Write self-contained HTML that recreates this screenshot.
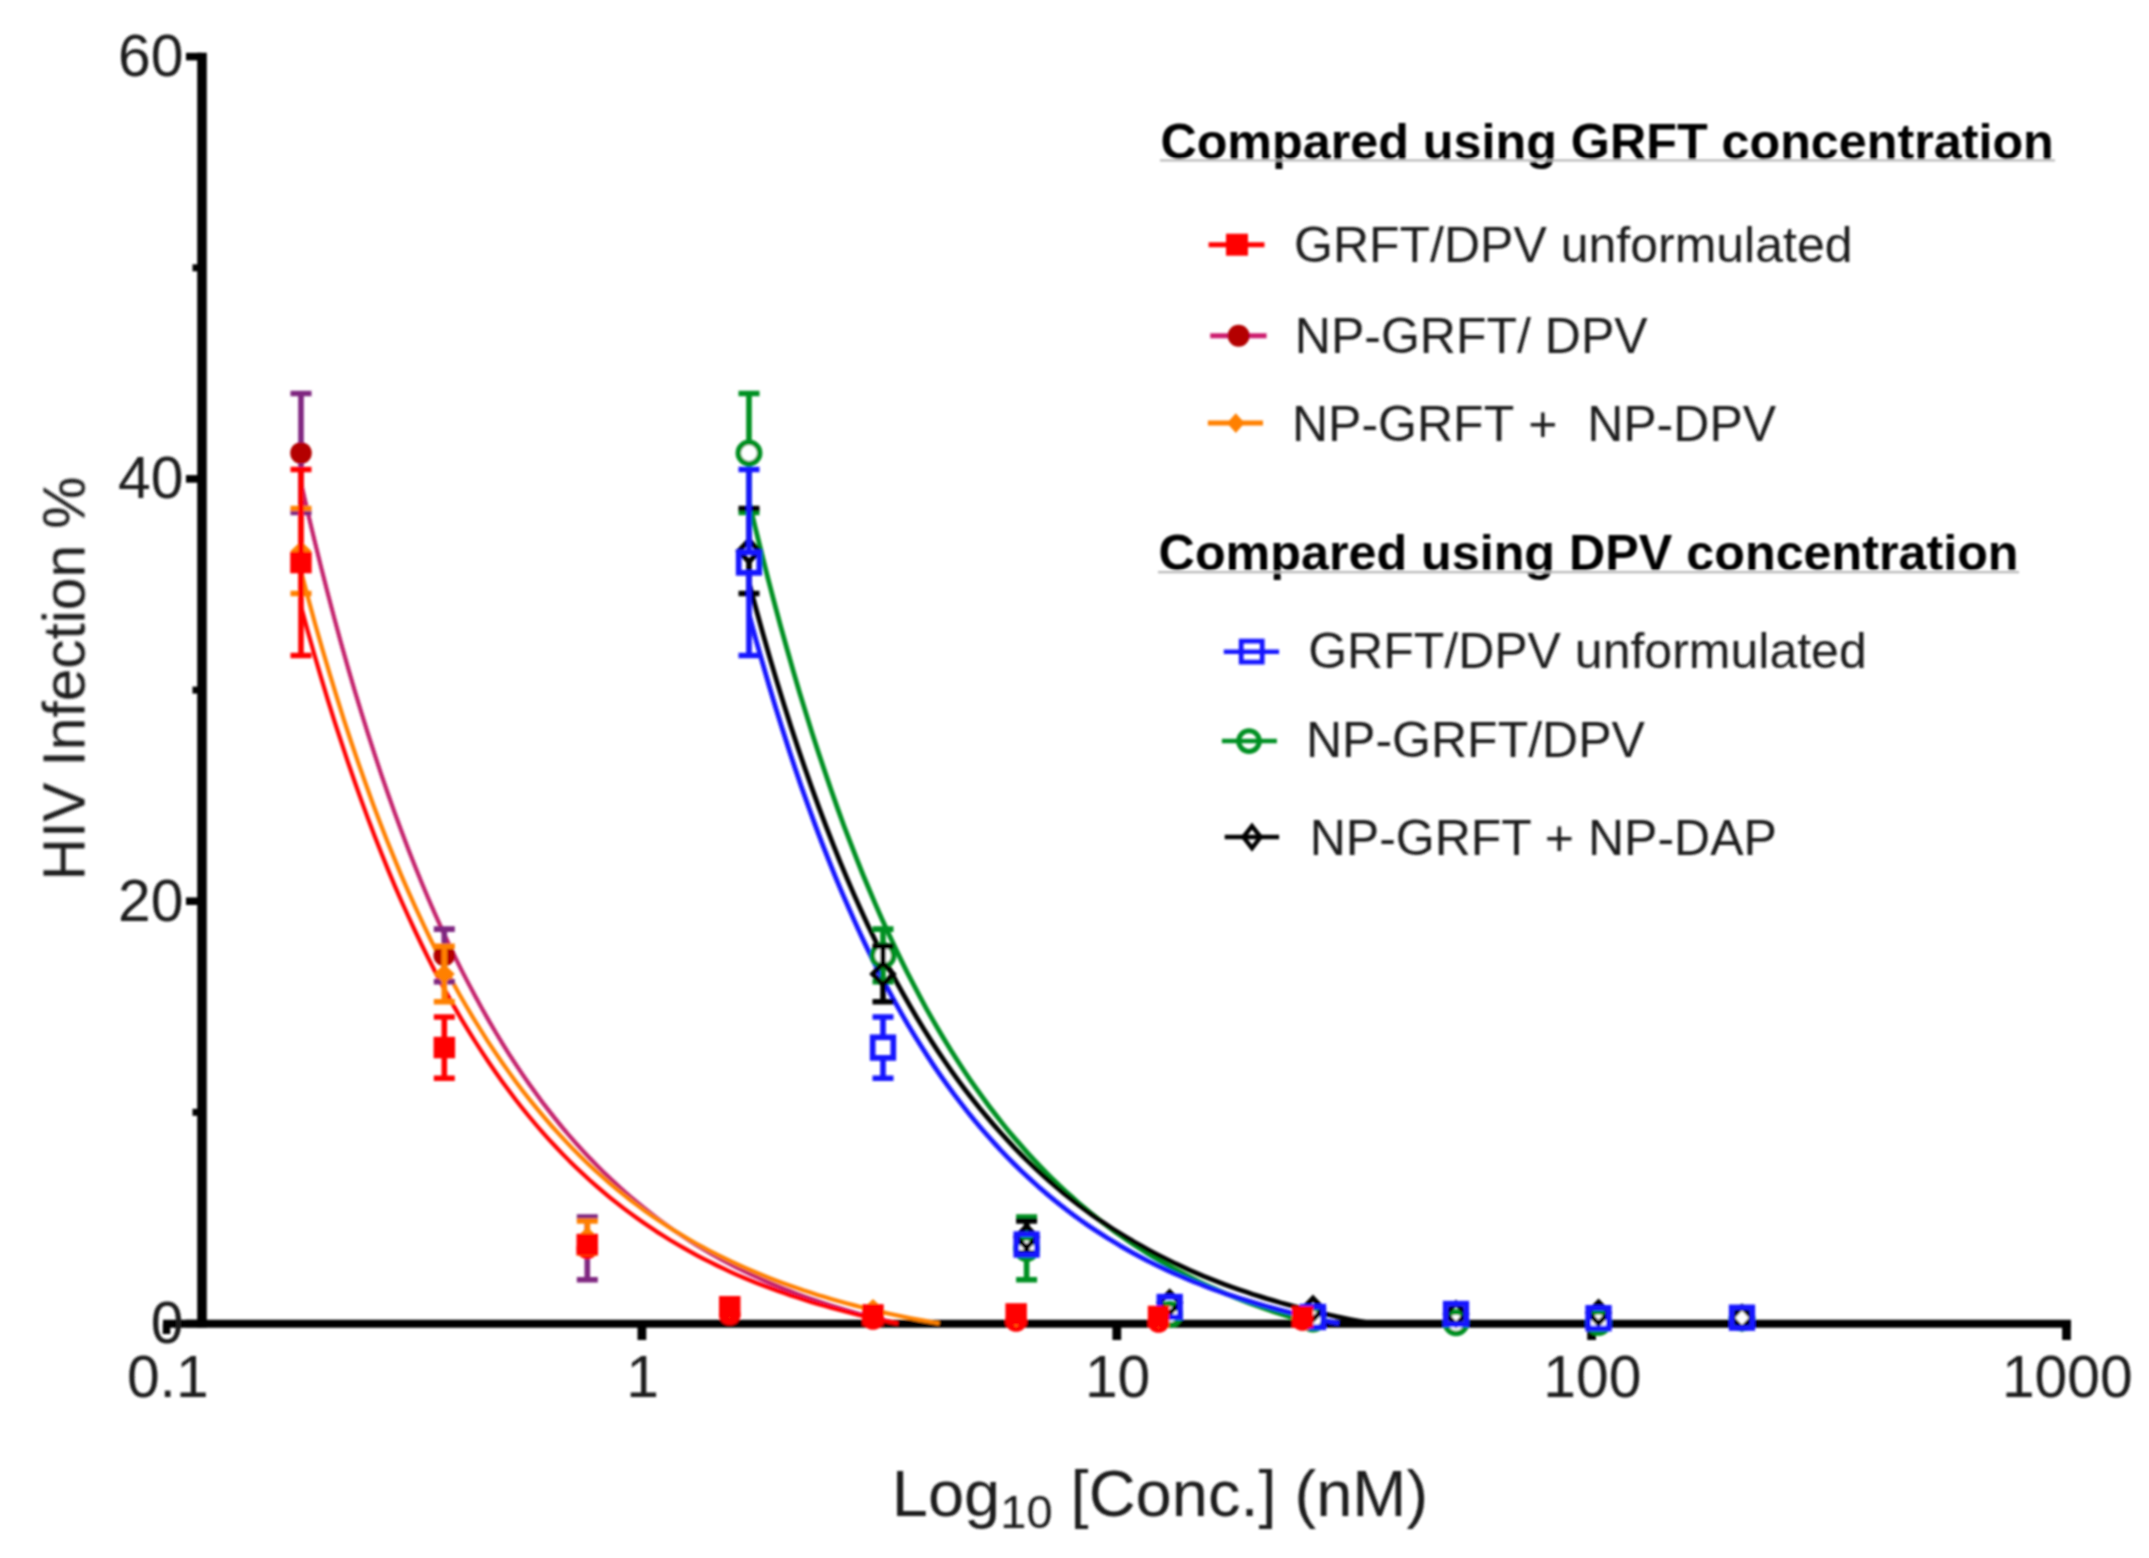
<!DOCTYPE html>
<html lang="en"><head><meta charset="utf-8"><title>HIV Infection % vs Log10 [Conc.] (nM)</title>
<style>html,body{margin:0;padding:0;background:#fff}body{width:2149px;height:1558px;overflow:hidden}svg{display:block}</style>
</head><body>
<svg width="2149" height="1558" viewBox="0 0 2149 1558">
<defs><filter id="soft" x="0" y="0" width="2149" height="1558" filterUnits="userSpaceOnUse"><feGaussianBlur stdDeviation="0.95"/></filter></defs>
<rect width="2149" height="1558" fill="#ffffff"/>
<g filter="url(#soft)">
<path d="M202,52.8V1327.6" stroke="#000" stroke-width="9.6" fill="none"/>
<path d="M163,1323.7H2071" stroke="#000" stroke-width="8" fill="none"/>
<path d="M186,56.6H202" stroke="#000" stroke-width="7.6"/>
<path d="M186,478.9H202" stroke="#000" stroke-width="7.6"/>
<path d="M186,901.2H202" stroke="#000" stroke-width="7.6"/>
<path d="M186,1323.5H202" stroke="#000" stroke-width="7.6"/>
<path d="M192.5,267.8H202" stroke="#000" stroke-width="7"/>
<path d="M192.5,690.1H202" stroke="#000" stroke-width="7"/>
<path d="M192.5,1112.3H202" stroke="#000" stroke-width="7"/>
<path d="M166.5,1323.7V1334" stroke="#000" stroke-width="7.5"/>
<path d="M641.9,1323.7V1340" stroke="#000" stroke-width="8.8"/>
<path d="M1116.8,1323.7V1340" stroke="#000" stroke-width="8.8"/>
<path d="M1591.6,1323.7V1340" stroke="#000" stroke-width="8.8"/>
<path d="M2066.5,1323.7V1340" stroke="#000" stroke-width="8.8"/>
<path d="M749.0,501.1 L755.3,527.7 L761.7,553.5 L768.0,578.5 L774.3,602.7 L780.6,626.2 L787.0,649.0 L793.3,671.2 L799.6,692.6 L806.0,713.4 L812.3,733.6 L818.6,753.1 L825.0,772.1 L831.3,790.5 L837.6,808.4 L843.9,825.7 L850.3,842.4 L856.6,858.7 L862.9,874.5 L869.3,889.8 L875.6,904.6 L881.9,919.0 L888.3,933.0 L894.6,946.5 L900.9,959.6 L907.2,972.4 L913.6,984.7 L919.9,996.7 L926.2,1008.3 L932.6,1019.6 L938.9,1030.5 L945.2,1041.1 L951.5,1051.3 L957.9,1061.3 L964.2,1071.0 L970.5,1080.3 L976.9,1089.4 L983.2,1098.2 L989.5,1106.7 L995.9,1115.0 L1002.2,1123.1 L1008.5,1130.9 L1014.8,1138.4 L1021.2,1145.7 L1027.5,1152.8 L1033.8,1159.7 L1040.2,1166.4 L1046.5,1172.9 L1052.8,1179.2 L1059.1,1185.3 L1065.5,1191.2 L1071.8,1196.9 L1078.1,1202.5 L1084.5,1207.9 L1090.8,1213.1 L1097.1,1218.2 L1103.5,1223.1 L1109.8,1227.8 L1116.1,1232.5 L1122.4,1236.9 L1128.8,1241.3 L1135.1,1245.5 L1141.4,1249.6 L1147.8,1253.6 L1154.1,1257.4 L1160.4,1261.1 L1166.8,1264.7 L1173.1,1268.3 L1179.4,1271.7 L1185.7,1275.0 L1192.1,1278.2 L1198.4,1281.3 L1204.7,1284.3 L1211.1,1287.2 L1217.4,1290.0 L1223.7,1292.8 L1230.0,1295.4 L1236.4,1298.0 L1242.7,1300.5 L1249.0,1302.9 L1255.4,1305.3 L1261.7,1307.6 L1268.0,1309.8 L1274.4,1311.9 L1280.7,1314.0 L1287.0,1316.0 L1293.3,1318.0 L1299.7,1319.9 L1306.0,1321.7 L1312.3,1323.5" fill="none" stroke="#009024" stroke-width="4.8" stroke-linecap="butt" stroke-linejoin="round"/>
<path d="M749.0,582.6 L756.0,608.7 L763.0,633.9 L770.0,658.3 L777.0,681.9 L784.0,704.6 L791.0,726.7 L798.0,747.9 L805.0,768.5 L812.0,788.4 L819.0,807.6 L826.0,826.2 L833.0,844.1 L839.9,861.4 L846.9,878.2 L853.9,894.4 L860.9,910.0 L867.9,925.2 L874.9,939.8 L881.9,953.9 L888.9,967.6 L895.9,980.8 L902.9,993.5 L909.9,1005.8 L916.9,1017.7 L923.9,1029.3 L930.9,1040.4 L937.9,1051.1 L944.9,1061.5 L951.9,1071.6 L958.9,1081.3 L965.9,1090.7 L972.9,1099.7 L979.9,1108.5 L986.9,1116.9 L993.9,1125.1 L1000.9,1133.0 L1007.9,1140.7 L1014.8,1148.1 L1021.8,1155.2 L1028.8,1162.1 L1035.8,1168.8 L1042.8,1175.2 L1049.8,1181.4 L1056.8,1187.5 L1063.8,1193.3 L1070.8,1198.9 L1077.8,1204.3 L1084.8,1209.6 L1091.8,1214.7 L1098.8,1219.6 L1105.8,1224.3 L1112.8,1228.9 L1119.8,1233.3 L1126.8,1237.6 L1133.8,1241.7 L1140.8,1245.7 L1147.8,1249.6 L1154.8,1253.3 L1161.8,1256.9 L1168.8,1260.4 L1175.8,1263.8 L1182.8,1267.0 L1189.7,1270.2 L1196.7,1273.2 L1203.7,1276.2 L1210.7,1279.0 L1217.7,1281.7 L1224.7,1284.4 L1231.7,1287.0 L1238.7,1289.4 L1245.7,1291.8 L1252.7,1294.2 L1259.7,1296.4 L1266.7,1298.6 L1273.7,1300.6 L1280.7,1302.7 L1287.7,1304.6 L1294.7,1306.5 L1301.7,1308.3 L1308.7,1310.1 L1315.7,1311.8 L1322.7,1313.4 L1329.7,1315.0 L1336.7,1316.6 L1343.7,1318.0 L1350.7,1319.5 L1357.6,1320.9 L1364.6,1322.2 L1371.6,1323.5" fill="none" stroke="#000000" stroke-width="4.8" stroke-linecap="butt" stroke-linejoin="round"/>
<path d="M749.0,614.2 L755.6,638.6 L762.3,662.2 L768.9,685.0 L775.5,707.1 L782.2,728.5 L788.8,749.2 L795.4,769.2 L802.0,788.6 L808.7,807.3 L815.3,825.4 L821.9,842.9 L828.6,859.9 L835.2,876.3 L841.8,892.2 L848.5,907.5 L855.1,922.4 L861.7,936.7 L868.3,950.6 L875.0,964.1 L881.6,977.1 L888.2,989.6 L894.9,1001.8 L901.5,1013.6 L908.1,1025.0 L914.8,1036.0 L921.4,1046.6 L928.0,1056.9 L934.6,1066.9 L941.3,1076.6 L947.9,1085.9 L954.5,1094.9 L961.2,1103.6 L967.8,1112.1 L974.4,1120.3 L981.1,1128.2 L987.7,1135.8 L994.3,1143.2 L1000.9,1150.4 L1007.6,1157.3 L1014.2,1164.0 L1020.8,1170.5 L1027.5,1176.7 L1034.1,1182.8 L1040.7,1188.7 L1047.4,1194.3 L1054.0,1199.8 L1060.6,1205.1 L1067.3,1210.3 L1073.9,1215.3 L1080.5,1220.1 L1087.1,1224.7 L1093.8,1229.2 L1100.4,1233.6 L1107.0,1237.8 L1113.7,1241.8 L1120.3,1245.8 L1126.9,1249.6 L1133.6,1253.3 L1140.2,1256.8 L1146.8,1260.3 L1153.4,1263.6 L1160.1,1266.9 L1166.7,1270.0 L1173.3,1273.0 L1180.0,1275.9 L1186.6,1278.8 L1193.2,1281.5 L1199.9,1284.1 L1206.5,1286.7 L1213.1,1289.2 L1219.7,1291.6 L1226.4,1293.9 L1233.0,1296.1 L1239.6,1298.3 L1246.3,1300.4 L1252.9,1302.4 L1259.5,1304.4 L1266.2,1306.3 L1272.8,1308.1 L1279.4,1309.9 L1286.1,1311.6 L1292.7,1313.3 L1299.3,1314.9 L1305.9,1316.4 L1312.6,1318.0 L1319.2,1319.4 L1325.8,1320.8 L1332.5,1322.2 L1339.1,1323.5" fill="none" stroke="#1414ff" stroke-width="4.8" stroke-linecap="butt" stroke-linejoin="round"/>
<path d="M301.0,483.0 L307.7,512.0 L314.4,540.1 L321.1,567.3 L327.8,593.6 L334.5,619.0 L341.2,643.6 L347.9,667.4 L354.6,690.4 L361.4,712.6 L368.1,734.1 L374.8,754.9 L381.5,775.1 L388.2,794.5 L394.9,813.4 L401.6,831.6 L408.3,849.2 L415.0,866.3 L421.7,882.7 L428.4,898.7 L435.1,914.1 L441.8,929.0 L448.5,943.4 L455.2,957.4 L461.9,970.9 L468.7,983.9 L475.4,996.6 L482.1,1008.8 L488.8,1020.6 L495.5,1032.0 L502.2,1043.1 L508.9,1053.8 L515.6,1064.1 L522.3,1074.1 L529.0,1083.8 L535.7,1093.1 L542.4,1102.2 L549.1,1110.9 L555.8,1119.4 L562.5,1127.6 L569.2,1135.5 L575.9,1143.1 L582.7,1150.6 L589.4,1157.7 L596.1,1164.6 L602.8,1171.4 L609.5,1177.8 L616.2,1184.1 L622.9,1190.2 L629.6,1196.0 L636.3,1201.7 L643.0,1207.2 L649.7,1212.5 L656.4,1217.6 L663.1,1222.6 L669.8,1227.4 L676.5,1232.1 L683.2,1236.5 L690.0,1240.9 L696.7,1245.1 L703.4,1249.2 L710.1,1253.1 L716.8,1256.9 L723.5,1260.6 L730.2,1264.1 L736.9,1267.6 L743.6,1270.9 L750.3,1274.1 L757.0,1277.2 L763.7,1280.3 L770.4,1283.2 L777.1,1286.0 L783.8,1288.7 L790.5,1291.3 L797.2,1293.9 L804.0,1296.4 L810.7,1298.8 L817.4,1301.1 L824.1,1303.3 L830.8,1305.4 L837.5,1307.5 L844.2,1309.6 L850.9,1311.5 L857.6,1313.4 L864.3,1315.2 L871.0,1317.0 L877.7,1318.7 L884.4,1320.4 L891.1,1322.0 L897.8,1323.5" fill="none" stroke="#c4206c" stroke-width="4.2" stroke-linecap="butt" stroke-linejoin="round"/>
<path d="M301.0,571.4 L308.2,598.4 L315.3,624.5 L322.5,649.6 L329.7,673.9 L336.9,697.4 L344.0,720.1 L351.2,742.0 L358.4,763.1 L365.6,783.5 L372.7,803.2 L379.9,822.3 L387.1,840.7 L394.3,858.4 L401.4,875.6 L408.6,892.1 L415.8,908.1 L423.0,923.6 L430.1,938.5 L437.3,952.9 L444.5,966.8 L451.7,980.2 L458.8,993.2 L466.0,1005.7 L473.2,1017.9 L480.4,1029.5 L487.5,1040.8 L494.7,1051.7 L501.9,1062.2 L509.1,1072.4 L516.2,1082.2 L523.4,1091.7 L530.6,1100.9 L537.8,1109.7 L544.9,1118.2 L552.1,1126.5 L559.3,1134.4 L566.5,1142.1 L573.6,1149.6 L580.8,1156.7 L588.0,1163.7 L595.2,1170.4 L602.3,1176.8 L609.5,1183.1 L616.7,1189.1 L623.9,1194.9 L631.0,1200.5 L638.2,1205.9 L645.4,1211.2 L652.6,1216.2 L659.7,1221.1 L666.9,1225.8 L674.1,1230.4 L681.3,1234.8 L688.4,1239.1 L695.6,1243.2 L702.8,1247.1 L710.0,1251.0 L717.1,1254.7 L724.3,1258.2 L731.5,1261.7 L738.7,1265.0 L745.8,1268.2 L753.0,1271.3 L760.2,1274.3 L767.4,1277.2 L774.5,1280.0 L781.7,1282.7 L788.9,1285.3 L796.1,1287.8 L803.2,1290.3 L810.4,1292.6 L817.6,1294.9 L824.8,1297.1 L831.9,1299.2 L839.1,1301.3 L846.3,1303.2 L853.5,1305.1 L860.6,1307.0 L867.8,1308.8 L875.0,1310.5 L882.2,1312.1 L889.3,1313.7 L896.5,1315.3 L903.7,1316.8 L910.9,1318.2 L918.0,1319.6 L925.2,1320.9 L932.4,1322.2 L939.6,1323.5" fill="none" stroke="#ff8000" stroke-width="4.2" stroke-linecap="butt" stroke-linejoin="round"/>
<path d="M301.0,606.4 L307.7,631.0 L314.4,654.7 L321.1,677.7 L327.8,699.9 L334.5,721.4 L341.3,742.2 L348.0,762.3 L354.7,781.8 L361.4,800.6 L368.1,818.9 L374.8,836.5 L381.5,853.6 L388.2,870.1 L394.9,886.1 L401.6,901.5 L408.4,916.5 L415.1,931.0 L421.8,945.0 L428.5,958.6 L435.2,971.7 L441.9,984.4 L448.6,996.7 L455.3,1008.6 L462.0,1020.1 L468.7,1031.2 L475.5,1042.0 L482.2,1052.4 L488.9,1062.5 L495.6,1072.3 L502.3,1081.7 L509.0,1090.8 L515.7,1099.7 L522.4,1108.2 L529.1,1116.5 L535.8,1124.5 L542.6,1132.3 L549.3,1139.8 L556.0,1147.0 L562.7,1154.1 L569.4,1160.9 L576.1,1167.4 L582.8,1173.8 L589.5,1180.0 L596.2,1185.9 L602.9,1191.7 L609.7,1197.3 L616.4,1202.6 L623.1,1207.9 L629.8,1212.9 L636.5,1217.8 L643.2,1222.5 L649.9,1227.1 L656.6,1231.6 L663.3,1235.8 L670.0,1240.0 L676.8,1244.0 L683.5,1247.9 L690.2,1251.7 L696.9,1255.3 L703.6,1258.8 L710.3,1262.2 L717.0,1265.5 L723.7,1268.7 L730.4,1271.8 L737.1,1274.8 L743.9,1277.7 L750.6,1280.5 L757.3,1283.2 L764.0,1285.8 L770.7,1288.3 L777.4,1290.8 L784.1,1293.1 L790.8,1295.4 L797.5,1297.6 L804.2,1299.8 L810.9,1301.9 L817.7,1303.9 L824.4,1305.8 L831.1,1307.7 L837.8,1309.5 L844.5,1311.3 L851.2,1313.0 L857.9,1314.7 L864.6,1316.3 L871.3,1317.8 L878.0,1319.3 L884.8,1320.7 L891.5,1322.1 L898.2,1323.5" fill="none" stroke="#ff0000" stroke-width="4.2" stroke-linecap="butt" stroke-linejoin="round"/>
<path d="M749.0,393.5V442.0M749.0,464.0V512.5M738.5,393.5H759.5M738.5,512.5H759.5" stroke="#009024" stroke-width="5.6" fill="none"/>
<circle cx="749.0" cy="453.0" r="10.7" fill="#ffffff" stroke="#009024" stroke-width="5.5"/>
<path d="M883.0,929.1V944.4M883.0,966.4V981.7M872.5,929.1H893.5M872.5,981.7H893.5" stroke="#009024" stroke-width="5.6" fill="none"/>
<circle cx="883.0" cy="955.4" r="10.7" fill="#ffffff" stroke="#009024" stroke-width="5.5"/>
<path d="M1026.6,1217.0V1237.4M1026.6,1259.4V1279.8M1016.1,1217.0H1037.1M1016.1,1279.8H1037.1" stroke="#009024" stroke-width="5.6" fill="none"/>
<circle cx="1026.6" cy="1248.4" r="10.7" fill="#ffffff" stroke="#009024" stroke-width="5.5"/>
<circle cx="1169.7" cy="1314.5" r="10.7" fill="#ffffff" stroke="#009024" stroke-width="5.5"/>
<circle cx="1313.0" cy="1319.0" r="10.7" fill="#ffffff" stroke="#009024" stroke-width="5.5"/>
<circle cx="1456.0" cy="1322.7" r="10.7" fill="#ffffff" stroke="#009024" stroke-width="5.5"/>
<circle cx="1598.5" cy="1322.5" r="10.7" fill="#ffffff" stroke="#009024" stroke-width="5.5"/>
<circle cx="1742.0" cy="1318.0" r="10.7" fill="#ffffff" stroke="#009024" stroke-width="5.5"/>
<path d="M749.0,508.5V540.0M749.0,562.0V593.5M738.5,508.5H759.5M738.5,593.5H759.5" stroke="#000000" stroke-width="5.6" fill="none"/>
<path d="M749.0,540.2L759.3,551.0L749.0,561.8L738.7,551.0Z" fill="none" stroke="#000000" stroke-width="5" stroke-linejoin="miter"/>
<path d="M883.0,946.3V963.0M883.0,985.0V1001.7M872.5,946.3H893.5M872.5,1001.7H893.5" stroke="#000000" stroke-width="5.6" fill="none"/>
<path d="M883.0,963.2L893.3,974.0L883.0,984.8L872.7,974.0Z" fill="none" stroke="#000000" stroke-width="5" stroke-linejoin="miter"/>
<path d="M1026.6,1221.0V1226.0M1026.6,1248.0V1253.0M1016.1,1221.0H1037.1M1016.1,1253.0H1037.1" stroke="#000000" stroke-width="5.6" fill="none"/>
<path d="M1026.6,1226.2L1036.9,1237.0L1026.6,1247.8L1016.3,1237.0Z" fill="none" stroke="#000000" stroke-width="5" stroke-linejoin="miter"/>
<path d="M1169.7,1291.9L1180.0,1302.7L1169.7,1313.5L1159.4,1302.7Z" fill="none" stroke="#000000" stroke-width="5" stroke-linejoin="miter"/>
<path d="M1313.0,1298.2L1323.3,1309.0L1313.0,1319.8L1302.7,1309.0Z" fill="none" stroke="#000000" stroke-width="5" stroke-linejoin="miter"/>
<path d="M1456.0,1303.2L1466.3,1314.0L1456.0,1324.8L1445.7,1314.0Z" fill="none" stroke="#000000" stroke-width="5" stroke-linejoin="miter"/>
<path d="M1598.5,1302.0L1608.8,1312.8L1598.5,1323.6L1588.2,1312.8Z" fill="none" stroke="#000000" stroke-width="5" stroke-linejoin="miter"/>
<path d="M1742.0,1306.9L1752.3,1317.7L1742.0,1328.5L1731.7,1317.7Z" fill="none" stroke="#000000" stroke-width="5" stroke-linejoin="miter"/>
<path d="M749.0,469.5V552.0M749.0,573.0V655.5M738.5,469.5H759.5M738.5,655.5H759.5" stroke="#1414ff" stroke-width="5.6" fill="none"/>
<rect x="738.7" y="552.2" width="20.6" height="20.6" fill="none" stroke="#1414ff" stroke-width="5.7"/>
<path d="M883.0,1017.0V1037.1M883.0,1058.1V1078.2M872.5,1017.0H893.5M872.5,1078.2H893.5" stroke="#1414ff" stroke-width="5.6" fill="none"/>
<rect x="872.7" y="1037.3" width="20.6" height="20.6" fill="none" stroke="#1414ff" stroke-width="5.7"/>
<rect x="1016.3" y="1234.2" width="20.6" height="20.6" fill="none" stroke="#1414ff" stroke-width="5.7"/>
<rect x="1159.4" y="1296.7" width="20.6" height="20.6" fill="none" stroke="#1414ff" stroke-width="5.7"/>
<rect x="1302.7" y="1306.7" width="20.6" height="20.6" fill="none" stroke="#1414ff" stroke-width="5.7"/>
<rect x="1445.7" y="1303.7" width="20.6" height="20.6" fill="none" stroke="#1414ff" stroke-width="5.7"/>
<rect x="1588.2" y="1307.9" width="20.6" height="20.6" fill="none" stroke="#1414ff" stroke-width="5.7"/>
<rect x="1731.7" y="1307.4" width="20.6" height="20.6" fill="none" stroke="#1414ff" stroke-width="5.7"/>
<path d="M301.0,393.5V453.0M301.0,453.0V512.5M290.5,393.5H311.5M290.5,512.5H311.5" stroke="#7f2580" stroke-width="5.6" fill="none"/>
<circle cx="301.0" cy="453.0" r="10.8" fill="#b40000"/>
<path d="M444.3,929.1V955.4M444.3,955.4V981.7M433.8,929.1H454.8M433.8,981.7H454.8" stroke="#7f2580" stroke-width="5.6" fill="none"/>
<circle cx="444.3" cy="955.4" r="10.8" fill="#b40000"/>
<path d="M587.3,1217.0V1248.4M587.3,1248.4V1279.8M576.8,1217.0H597.8M576.8,1279.8H597.8" stroke="#7f2580" stroke-width="5.6" fill="none"/>
<circle cx="587.3" cy="1248.4" r="10.8" fill="#ff0000"/>
<circle cx="729.7" cy="1314.5" r="10.8" fill="#ff0000"/>
<circle cx="873.0" cy="1319.0" r="10.8" fill="#ff0000"/>
<circle cx="1016.1" cy="1321.0" r="10.8" fill="#ff0000"/>
<circle cx="1158.5" cy="1322.0" r="10.8" fill="#ff0000"/>
<circle cx="1302.5" cy="1320.0" r="10.8" fill="#ff0000"/>
<path d="M301.0,508.5V551.0M301.0,551.0V593.5M290.5,508.5H311.5M290.5,593.5H311.5" stroke="#ff8000" stroke-width="5.6" fill="none"/>
<path d="M301.0,541.0L311.5,551.0L301.0,561.0L290.5,551.0Z" fill="#ff8000"/>
<path d="M444.3,946.3V974.0M444.3,974.0V1001.7M433.8,946.3H454.8M433.8,1001.7H454.8" stroke="#ff8000" stroke-width="5.6" fill="none"/>
<path d="M444.3,964.0L454.8,974.0L444.3,984.0L433.8,974.0Z" fill="#ff8000"/>
<path d="M587.3,1221.0V1237.0M587.3,1237.0V1253.0M576.8,1221.0H597.8M576.8,1253.0H597.8" stroke="#ff8000" stroke-width="5.6" fill="none"/>
<path d="M587.3,1227.0L597.8,1237.0L587.3,1247.0L576.8,1237.0Z" fill="#ff8000"/>
<path d="M729.7,1298.0L740.2,1308.0L729.7,1318.0L719.2,1308.0Z" fill="#ff8000"/>
<path d="M873.0,1299.0L883.5,1309.0L873.0,1319.0L862.5,1309.0Z" fill="#ff8000"/>
<path d="M1016.1,1307.0L1026.6,1317.0L1016.1,1327.0L1005.6,1317.0Z" fill="#ff8000"/>
<path d="M1158.5,1308.0L1169.0,1318.0L1158.5,1328.0L1148.0,1318.0Z" fill="#ff8000"/>
<path d="M1302.5,1306.0L1313.0,1316.0L1302.5,1326.0L1292.0,1316.0Z" fill="#ff8000"/>
<path d="M301.0,469.5V562.5M301.0,562.5V655.5M290.5,469.5H311.5M290.5,655.5H311.5" stroke="#ff0000" stroke-width="5.6" fill="none"/>
<rect x="290.2" y="551.8" width="21.5" height="21.5" fill="#ff0000"/>
<path d="M444.3,1017.0V1047.6M444.3,1047.6V1078.2M433.8,1017.0H454.8M433.8,1078.2H454.8" stroke="#ff0000" stroke-width="5.6" fill="none"/>
<rect x="433.6" y="1036.8" width="21.5" height="21.5" fill="#ff0000"/>
<rect x="576.5" y="1233.8" width="21.5" height="21.5" fill="#ff0000"/>
<rect x="719.0" y="1296.0" width="21.5" height="21.5" fill="#ff0000"/>
<rect x="862.2" y="1304.2" width="21.5" height="21.5" fill="#ff0000"/>
<rect x="1005.4" y="1303.2" width="21.5" height="21.5" fill="#ff0000"/>
<rect x="1147.8" y="1305.7" width="21.5" height="21.5" fill="#ff0000"/>
<rect x="1291.8" y="1306.2" width="21.5" height="21.5" fill="#ff0000"/>
<text x="183.4" y="76.0" font-family="Liberation Sans, sans-serif" font-size="58.8" font-weight="normal" text-anchor="end" fill="#1c1c1c" >60</text>
<text x="183.4" y="498.3" font-family="Liberation Sans, sans-serif" font-size="58.8" font-weight="normal" text-anchor="end" fill="#1c1c1c" >40</text>
<text x="183.4" y="920.6" font-family="Liberation Sans, sans-serif" font-size="58.8" font-weight="normal" text-anchor="end" fill="#1c1c1c" >20</text>
<text x="183.4" y="1342.9" font-family="Liberation Sans, sans-serif" font-size="58.8" font-weight="normal" text-anchor="end" fill="#1c1c1c" >0</text>
<text x="167.8" y="1397.4" font-family="Liberation Sans, sans-serif" font-size="58.8" font-weight="normal" text-anchor="middle" fill="#1c1c1c" >0.1</text>
<text x="642.7" y="1397.4" font-family="Liberation Sans, sans-serif" font-size="58.8" font-weight="normal" text-anchor="middle" fill="#1c1c1c" >1</text>
<text x="1117.6" y="1397.4" font-family="Liberation Sans, sans-serif" font-size="58.8" font-weight="normal" text-anchor="middle" fill="#1c1c1c" >10</text>
<text x="1592.4" y="1397.4" font-family="Liberation Sans, sans-serif" font-size="58.8" font-weight="normal" text-anchor="middle" fill="#1c1c1c" >100</text>
<text x="2067.3" y="1397.4" font-family="Liberation Sans, sans-serif" font-size="58.8" font-weight="normal" text-anchor="middle" fill="#1c1c1c" >1000</text>
<text transform="translate(84.5,678.5) rotate(-90)" font-family="Liberation Sans, sans-serif" font-size="58.6" text-anchor="middle" fill="#1c1c1c">HIV Infection %</text>
<text x="891.8" y="1515.5" font-family="Liberation Sans, sans-serif" font-size="65" fill="#1c1c1c" xml:space="preserve">Log<tspan font-size="47" dy="12.5">10</tspan><tspan dy="-12.5"> [Conc.] (nM)</tspan></text>
<text x="1160.4" y="158.6" font-family="Liberation Sans, sans-serif" font-size="50.25" font-weight="bold" fill="#000">Compared using GRFT concentration</text>
<path d="M1160,160.3H2055" stroke="#b8b8b8" stroke-width="2.2"/>
<text x="1158.6" y="569.8" font-family="Liberation Sans, sans-serif" font-size="50.25" font-weight="bold" fill="#000">Compared using DPV concentration</text>
<path d="M1158,572.2H2019" stroke="#b8b8b8" stroke-width="2.2"/>
<path d="M1208.6,244.7H1264.5" stroke="#ff0000" stroke-width="5"/>
<rect x="1226.0" y="233.7" width="22" height="22" fill="#ff0000"/>
<text x="1294" y="261.7" font-family="Liberation Sans, sans-serif" font-size="50" font-weight="normal" text-anchor="start" fill="#1c1c1c" >GRFT/DPV unformulated</text>
<path d="M1210.2,335.8H1266.6" stroke="#cc1e6e" stroke-width="5"/>
<circle cx="1238.6" cy="335.8" r="11" fill="#b40000"/>
<text x="1294.8" y="353.3" font-family="Liberation Sans, sans-serif" font-size="50" font-weight="normal" text-anchor="start" fill="#1c1c1c" xml:space="preserve">NP-GRFT/ DPV</text>
<path d="M1207.9,423.1H1263" stroke="#ff8000" stroke-width="5"/>
<path d="M1235.8,413.3L1244.6,423.1L1235.8,432.9L1227.0,423.1Z" fill="#ff8000"/>
<text x="1292" y="440.5" font-family="Liberation Sans, sans-serif" font-size="50" font-weight="normal" text-anchor="start" fill="#1c1c1c" xml:space="preserve" word-spacing="1">NP-GRFT +  NP-DPV</text>
<path d="M1223.8,651.7H1279.1" stroke="#1414ff" stroke-width="4.5"/>
<rect x="1241.2" y="641.1" width="21" height="21" fill="none" stroke="#1414ff" stroke-width="4.8"/>
<text x="1308.2" y="668" font-family="Liberation Sans, sans-serif" font-size="50" font-weight="normal" text-anchor="start" fill="#1c1c1c" >GRFT/DPV unformulated</text>
<path d="M1221.9,741.1H1276.9" stroke="#009024" stroke-width="4.5"/>
<circle cx="1249.0" cy="741.1" r="10.3" fill="none" stroke="#009024" stroke-width="5"/>
<text x="1306" y="757" font-family="Liberation Sans, sans-serif" font-size="50" font-weight="normal" text-anchor="start" fill="#1c1c1c" >NP-GRFT/DPV</text>
<path d="M1224.7,837.1H1279.1" stroke="#000000" stroke-width="4.5"/>
<path d="M1252.0,826.1L1260.6,837.1L1252.0,848.1L1243.4,837.1Z" fill="none" stroke="#000000" stroke-width="4.4" stroke-linejoin="miter"/>
<text x="1309.7" y="854.7" font-family="Liberation Sans, sans-serif" font-size="50" font-weight="normal" text-anchor="start" fill="#1c1c1c" >NP-GRFT + NP-DAP</text>
</g>
</svg>
</body></html>
